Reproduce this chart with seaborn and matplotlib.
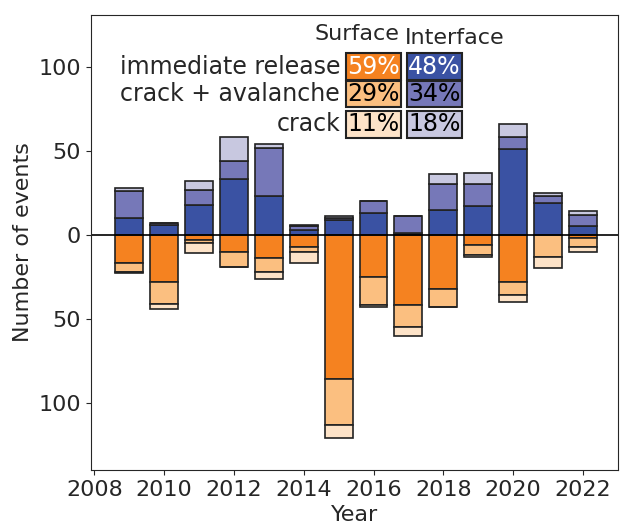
import matplotlib
matplotlib.use("Agg")
import matplotlib.pyplot as plt
import seaborn as sns
import numpy as np

years = list(range(2009, 2023))
int_immediate = [10, 6, 18, 33, 23, 3, 9, 13, 1, 15, 17, 51, 19, 5]
int_avalanche = [16, 1, 9, 11, 29, 2, 1, 7, 10, 15, 13, 7, 4, 7]
int_crack     = [2, 0, 5, 14, 2, 1, 1, 0, 0, 6, 7, 8, 2, 2]
sur_immediate = [17, 28, 3, 10, 14, 7, 86, 25, 42, 32, 6, 28, 0, 2]
sur_avalanche = [5, 13, 2, 9, 8, 3, 27, 17, 13, 11, 6, 8, 13, 5]
sur_crack     = [1, 3, 6, 0, 4, 7, 8, 1, 5, 0, 1, 4, 7, 3]
row_labels = ["immediate release", "crack + avalanche", "crack"]
sur_pct = ["59%", "29%", "11%"]
int_pct = ["48%", "34%", "18%"]

sur_cols = ["#f58220", "#fbbf80", "#fde3c8"]
int_cols = ["#3a52a3", "#7678b8", "#c8c8e0"]

sns.set_style("ticks")
plt.rcParams['font.family'] = ['DejaVu Sans']
fig, ax = plt.subplots(figsize=(6.26, 5.31), dpi=100)
x = np.array(years)
w = 0.8
bot = np.zeros(len(years))
for vals, c in zip([int_immediate, int_avalanche, int_crack], int_cols):
    v = np.array(vals)
    ax.bar(x, v, w, bottom=bot, color=c, edgecolor="#222222", linewidth=1.2)
    bot += v
bot = np.zeros(len(years))
for vals, c in zip([sur_immediate, sur_avalanche, sur_crack], sur_cols):
    v = -np.array(vals)
    ax.bar(x, v, w, bottom=bot, color=c, edgecolor="#222222", linewidth=1.2)
    bot += v
ax.axhline(0, color="black", lw=1.2)
ax.set_xlim(2007.9, 2023.0)
ax.set_ylim(-140, 131)
ax.set_yticks([-100, -50, 0, 50, 100])
ax.set_yticklabels(["100", "50", "0", "50", "100"])
ax.set_xticks(range(2008, 2023, 2))
ax.tick_params(labelsize=16)
ax.set_xlabel("Year", fontsize=16)
ax.set_ylabel("Number of events", fontsize=16)
for s in ax.spines.values():
    s.set_visible(True)

fs = 17
ys = [0.886, 0.826, 0.76]
ax.text(0.585, 0.958, "Surface", transform=ax.transAxes, fontsize=16, ha="right", va="center")
ax.text(0.595, 0.95, "Interface", transform=ax.transAxes, fontsize=16, ha="left", va="center")
for i, y in enumerate(ys):
    ax.text(0.473, y, row_labels[i], transform=ax.transAxes, fontsize=fs, ha="right", va="center")
    ax.text(0.536, y, sur_pct[i], transform=ax.transAxes, fontsize=fs, ha="center", va="center",
            color="white" if i == 0 else "black",
            bbox=dict(boxstyle="square,pad=0.06", fc=sur_cols[i], ec="#222222", lw=1.5))
    ax.text(0.652, y, int_pct[i], transform=ax.transAxes, fontsize=fs, ha="center", va="center",
            color="white" if i == 0 else "black",
            bbox=dict(boxstyle="square,pad=0.06", fc=int_cols[i], ec="#222222", lw=1.5))

fig.subplots_adjust(left=0.145, right=0.987, top=0.972, bottom=0.115)
fig.savefig("out.png", dpi=100)
